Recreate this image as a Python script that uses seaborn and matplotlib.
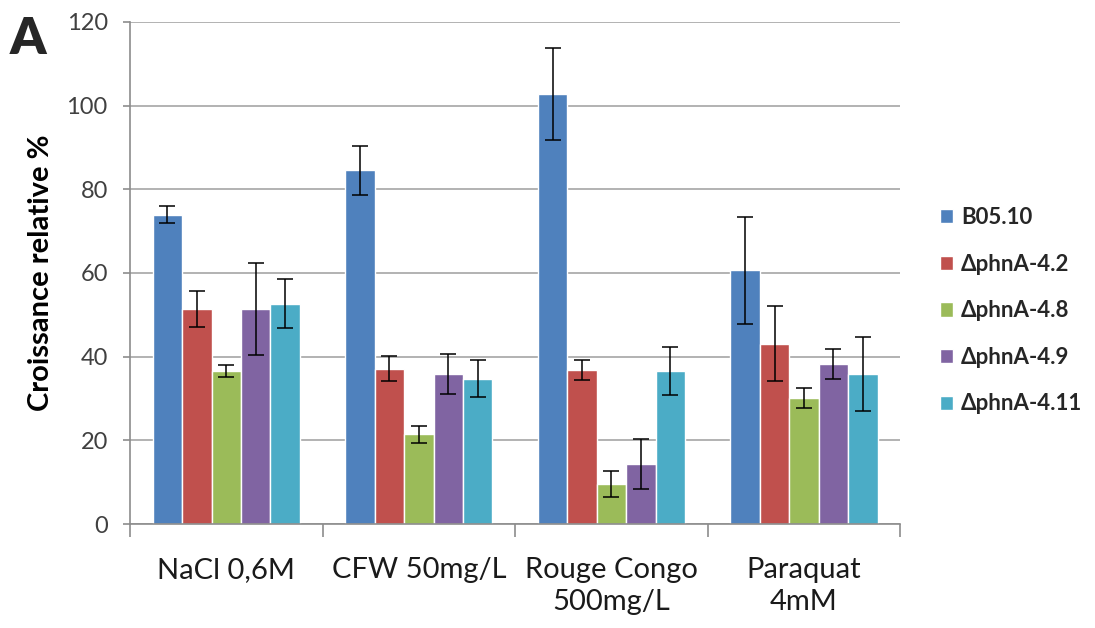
import numpy as np
import pandas as pd
import matplotlib
matplotlib.use("Agg")
import matplotlib.pyplot as plt
import seaborn as sns

conditions = ["NaCl 0,6M", "CFW 50mg/L", "Rouge Congo\n500mg/L", "Paraquat\n4mM"]
strains = ["B05.10", "ΔphnA-4.2", "ΔphnA-4.8", "ΔphnA-4.9", "ΔphnA-4.11"]

# relative growth (%) per strain, one value per condition
b0510 = [73.9, 84.5, 102.7, 60.6]
phna_42 = [51.4, 37.1, 36.9, 43.1]
phna_48 = [36.6, 21.4, 9.5, 30.1]
phna_49 = [51.4, 35.8, 14.4, 38.3]
phna_411 = [52.7, 34.7, 36.6, 35.8]

# error bars (+/-)
err_b0510 = [2.0, 5.8, 11.0, 12.8]
err_phna_42 = [4.3, 3.0, 2.4, 8.9]
err_phna_48 = [1.4, 2.1, 3.1, 2.4]
err_phna_49 = [11.0, 4.8, 6.0, 3.6]
err_phna_411 = [5.8, 4.4, 5.8, 8.8]

colors = ["#4F81BD", "#C0504D", "#9BBB59", "#8064A2", "#4BACC6"]

values = [b0510, phna_42, phna_48, phna_49, phna_411]
errors = [err_b0510, err_phna_42, err_phna_48, err_phna_49, err_phna_411]

rows = []
for s, vals, errs in zip(strains, values, errors):
    for c, v, e in zip(conditions, vals, errs):
        rows.append({"condition": c, "strain": s, "value": v, "err": e})
df = pd.DataFrame(rows)

sns.set_style("white")
plt.rcParams["font.family"] = ["Lato", "DejaVu Sans"]

fig = plt.figure(figsize=(10.95, 6.28), dpi=100)
ax = fig.add_axes([0.1187, 0.1656, 0.7035, 0.7994])

sns.barplot(data=df, x="condition", y="value", hue="strain", order=conditions,
            hue_order=strains, palette=colors, width=0.764, gap=0,
            errorbar=None, saturation=1, ax=ax, zorder=2)

# error bars on top of each bar
for container, errs in zip(ax.containers, errors):
    for bar, e in zip(container, errs):
        cx = bar.get_x() + bar.get_width() / 2
        ax.errorbar(cx, bar.get_height(), yerr=e, fmt="none", ecolor="black",
                    elinewidth=1.1, capsize=6, capthick=1.1, zorder=3)

ax.set_xlim(-0.5, 3.5)
ax.set_ylim(0, 120)
ax.set_yticks(range(0, 121, 20))
ax.set_yticklabels([str(v) for v in range(0, 121, 20)], fontsize=17,
                   color="#404040")
ax.yaxis.grid(True, color="#A6A6A6", linewidth=1.2, zorder=0)
ax.set_axisbelow(True)

for side in ["top", "right"]:
    ax.spines[side].set_visible(False)
for side in ["left", "bottom"]:
    ax.spines[side].set_color("#8C8C8C")
    ax.spines[side].set_linewidth(1.2)

ax.tick_params(axis="y", which="major", left=True, length=5, width=1.2,
               color="#8C8C8C", pad=11)
ax.set_xticks(range(len(conditions)))
ax.set_xticklabels(conditions, fontsize=21, color="#1A1A1A", linespacing=1.25)
ax.set_xticks([-0.5, 0.5, 1.5, 2.5, 3.5], minor=True)
ax.tick_params(axis="x", which="major", bottom=False, length=0, pad=24)
ax.tick_params(axis="x", which="minor", bottom=True, length=9, width=1.2,
               color="#8C8C8C")
for lbl in ax.get_xticklabels():
    lbl.set_verticalalignment("top")

ax.set_xlabel("")
ax.set_ylabel("Croissance relative %", fontsize=21, fontweight="bold",
              color="black")
ax.yaxis.set_label_coords(-0.098, 0.5)

fig.text(0.009, 0.975, "A", fontsize=37, fontweight="heavy", va="top", ha="left")

handles, labels = ax.get_legend_handles_labels()
ax.legend(handles, labels, loc="center left", bbox_to_anchor=(0.84, 0.505),
          bbox_transform=fig.transFigure, frameon=False, handlelength=0.6,
          handleheight=0.6, handletextpad=0.35, labelspacing=1.15,
          prop={"size": 16, "weight": "bold"})

fig.savefig("out.png", dpi=100)
